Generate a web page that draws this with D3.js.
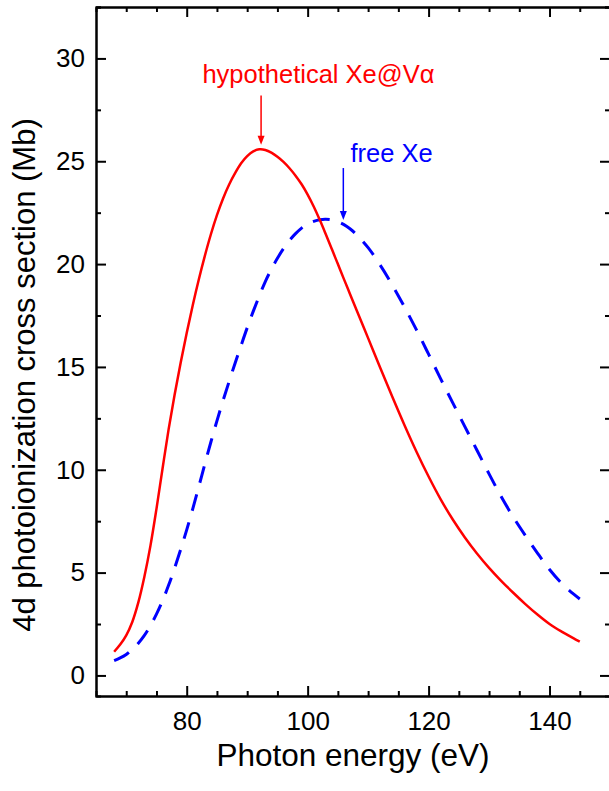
<!DOCTYPE html>
<html>
<head>
<meta charset="utf-8">
<script src="https://cdn.jsdelivr.net/npm/d3@7"></script>
<style>
  body { margin: 0; background: #fff; }
  svg text { font-family: Arial, "Liberation Sans", sans-serif; }
</style>
</head>
<body>
<script>
// photon energy (eV) and cross section (Mb)
var energyRed = [68, 69, 70, 71, 72, 73, 74, 75, 76, 77, 78, 79, 80, 81, 82, 83, 84, 85, 86, 87, 88, 89, 90, 91, 92, 93, 94, 95,
  96, 97, 98, 99, 100, 101, 102, 103, 104, 105, 106, 107, 108, 110, 112, 114, 116, 118, 120, 122, 124, 126, 128, 130, 132, 134, 136, 138, 140, 142, 144, 145];
var sigmaRed = [1.15, 1.5, 1.95, 2.6, 3.55, 4.8, 6.3, 8.1, 10.05, 11.95, 13.65, 15.2, 16.65, 18.0, 19.25, 20.4, 21.45, 22.38, 23.18, 23.86, 24.42, 24.9, 25.25, 25.48, 25.58, 25.55, 25.42, 25.22,
  24.97, 24.66, 24.3, 23.88, 23.38, 22.8, 22.15, 21.45, 20.73, 20.0, 19.27, 18.55, 17.83, 16.4, 14.96, 13.55, 12.18, 10.88, 9.67, 8.56, 7.58, 6.71, 5.93, 5.23, 4.6, 4.02, 3.47, 2.96, 2.5, 2.13, 1.8, 1.64];

var energyBlue = [68, 69, 70, 71, 72, 73, 74, 75, 76, 77, 78, 79, 80, 81, 82, 83, 84, 85, 86, 87, 88, 89, 90, 91, 92, 93, 94, 95, 96, 97, 98, 99,
  100, 101, 102, 103, 104, 105, 106, 107, 108, 110, 112, 114, 116, 118, 120, 122, 124, 126, 128, 130, 132, 134, 136, 138, 140, 142, 144, 145];
var sigmaBlue = [0.72, 0.85, 1.02, 1.27, 1.57, 1.95, 2.42, 2.98, 3.63, 4.38, 5.22, 6.12, 7.08, 8.1, 9.18, 10.28, 11.35, 12.38, 13.35, 14.28, 15.18, 16.05, 16.9, 17.7, 18.45, 19.15, 19.75, 20.28, 20.75, 21.15, 21.48, 21.75,
  21.95, 22.08, 22.16, 22.18, 22.15, 22.06, 21.92, 21.72, 21.46, 20.8, 19.95, 18.98, 17.92, 16.8, 15.62, 14.42, 13.25, 12.1, 10.95, 9.8, 8.7, 7.7, 6.8, 5.95, 5.15, 4.48, 3.95, 3.72];

var xTicks = [80, 100, 120, 140];
var xMinorTicks = [70, 75, 85, 90, 95, 105, 110, 115, 125, 130, 135, 145];
var yTicks = [0, 5, 10, 15, 20, 25, 30];
var yMinorTicks = [2.5, 7.5, 12.5, 17.5, 22.5, 27.5, 32.5];

var labelRed = "hypothetical Xe@V\u03b1";
var labelBlue = "free Xe";

function drawChart() {
  var width = 609, height = 791;
  var left = 96, right = 610, top = 7, bottom = 696;

  var svg = d3.select("body").append("svg")
    .attr("width", width)
    .attr("height", height);

  var x = d3.scaleLinear().domain([65, 150]).range([left, right]);
  var y = d3.scaleLinear().domain([-1, 32.5]).range([bottom, top]);

  function styleAxis(g) {
    g.selectAll("path").attr("stroke", "#000").attr("stroke-width", 2);
    g.selectAll("line").attr("stroke", "#000").attr("stroke-width", 2);
    g.selectAll("text").attr("font-size", 26).attr("fill", "#000")
      .attr("font-family", "Arial, 'Liberation Sans', sans-serif");
  }

  // bottom
  svg.append("g").attr("transform", "translate(0," + bottom + ")")
    .call(d3.axisBottom(x).tickValues(xMinorTicks).tickSize(-5).tickFormat(""))
    .call(styleAxis);
  svg.append("g").attr("transform", "translate(0," + bottom + ")")
    .call(d3.axisBottom(x).tickValues(xTicks).tickSizeInner(-10).tickSizeOuter(0).tickPadding(16))
    .call(styleAxis);
  // top
  svg.append("g").attr("transform", "translate(0," + top + ")")
    .call(d3.axisTop(x).tickValues(xMinorTicks).tickSize(-5).tickFormat(""))
    .call(styleAxis);
  svg.append("g").attr("transform", "translate(0," + top + ")")
    .call(d3.axisTop(x).tickValues(xTicks).tickSizeInner(-10).tickSizeOuter(0).tickFormat(""))
    .call(styleAxis);
  // left
  svg.append("g").attr("transform", "translate(" + left + ",0)")
    .call(d3.axisLeft(y).tickValues(yMinorTicks).tickSize(-5).tickFormat(""))
    .call(styleAxis);
  svg.append("g").attr("transform", "translate(" + left + ",0)")
    .call(d3.axisLeft(y).tickValues(yTicks).tickSizeInner(-10).tickSizeOuter(0).tickPadding(11))
    .call(styleAxis);
  // right
  svg.append("g").attr("transform", "translate(" + right + ",0)")
    .call(d3.axisRight(y).tickValues(yMinorTicks).tickSize(-5).tickFormat(""))
    .call(styleAxis);
  svg.append("g").attr("transform", "translate(" + right + ",0)")
    .call(d3.axisRight(y).tickValues(yTicks).tickSizeInner(-10).tickSizeOuter(0).tickFormat(""))
    .call(styleAxis);

  var line = d3.line()
    .x(function(d) { return x(d[0]); })
    .y(function(d) { return y(d[1]); })
    .curve(d3.curveCatmullRom.alpha(0.5));

  svg.append("path")
    .datum(d3.zip(energyBlue, sigmaBlue))
    .attr("d", line)
    .attr("fill", "none")
    .attr("stroke", "#0000ff")
    .attr("stroke-width", 3)
    .attr("stroke-dasharray", "17,12");

  svg.append("path")
    .datum(d3.zip(energyRed, sigmaRed))
    .attr("d", line)
    .attr("fill", "none")
    .attr("stroke", "#ff0000")
    .attr("stroke-width", 2.5);

  // annotations: label + arrow pointing at peak
  var notes = [
    { text: labelRed, color: "#ff0000", tx: 82.6, ty: 28.79, ax: 92.3, ay0: 28.2, ay1: 25.8 },
    { text: labelBlue, color: "#0000ff", tx: 107.07, ty: 24.98, ax: 105.9, ay0: 24.67, ay1: 22.14 }
  ];

  notes.forEach(function(n) {
    svg.append("text")
      .attr("x", x(n.tx))
      .attr("y", y(n.ty))
      .attr("font-size", 25.5)
      .attr("fill", n.color)
      .text(n.text);

    var xa = x(n.ax), y0 = y(n.ay0), y1 = y(n.ay1);
    svg.append("line")
      .attr("x1", xa).attr("x2", xa)
      .attr("y1", y0).attr("y2", y1 - 6)
      .attr("stroke", n.color)
      .attr("stroke-width", 1.5);
    svg.append("path")
      .attr("d", "M" + (xa - 3.5) + "," + (y1 - 9) + "L" + (xa + 3.5) + "," + (y1 - 9) + "L" + xa + "," + y1 + "Z")
      .attr("fill", n.color);
  });

  svg.append("text")
    .attr("x", (left + right) / 2)
    .attr("y", 766)
    .attr("text-anchor", "middle")
    .attr("font-size", 31.5)
    .text("Photon energy (eV)");

  svg.append("text")
    .attr("transform", "translate(35,375) rotate(-90)")
    .attr("text-anchor", "middle")
    .attr("font-size", 31)
    .text("4d photoionization cross section (Mb)");
}

document.addEventListener("DOMContentLoaded", function (event) {
  drawChart();
});
</script>
</body>
</html>
